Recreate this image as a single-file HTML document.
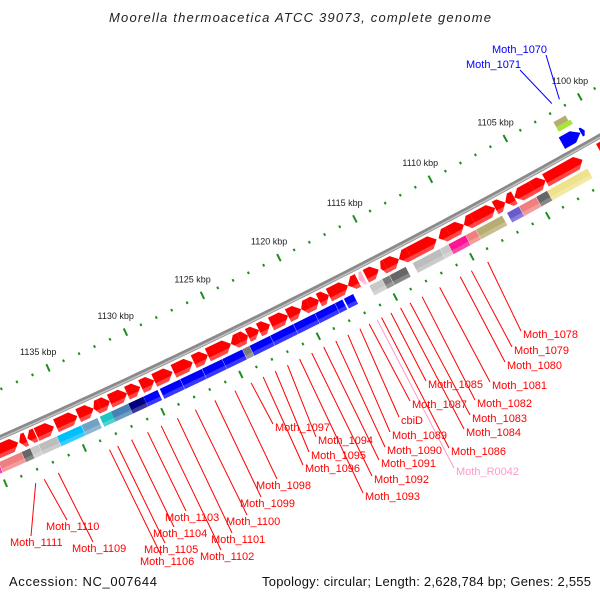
<!DOCTYPE html>
<html><head><meta charset="utf-8"><style>
html,body{margin:0;padding:0;background:#fff;width:600px;height:600px;overflow:hidden;}
svg{display:block;font-family:"Liberation Sans",sans-serif;}
</style></head><body>
<svg id="map" width="600" height="600" viewBox="0 0 600 600" xmlns="http://www.w3.org/2000/svg">
<rect width="600" height="600" fill="#fff"/>
<text x="300" y="22" text-anchor="middle" font-style="italic" font-size="13" fill="#222" textLength="382">Moorella thermoacetica ATCC 39073, complete genome</text>
<g id="rings"></g>
<g id="ticks"></g>
<g id="genes"></g>
<g id="labels"></g>
<text x="9" y="586" font-size="13" fill="#111" textLength="148">Accession: NC_007644</text>
<text x="591" y="586" text-anchor="end" font-size="13" fill="#111" textLength="329">Topology: circular; Length: 2,628,784 bp; Genes: 2,555</text>
</svg>
<script>
// ---- data (kbp) ----
const majorTicks = [1100,1105,1110,1115,1120,1125,1130,1135];
const majorTickLabels = ["1100 kbp","1105 kbp","1110 kbp","1115 kbp","1120 kbp","1125 kbp","1130 kbp","1135 kbp"];
const redStart = [1138.38,1137.86,1137.27,1136.10,1134.61,1133.57,1133.18,1132.53,1131.43,1130.58,1129.68,1128.51,1127.21,1126.23,1124.74,1124.16,1123.64,1122.92,1122.21,1121.04,1120.19,1119.68,1119.03,1118.38,1117.14,1116.49,1116.10,1115.13,1114.67,1113.80,1113.13,1111.33,1110.53,1109.53,1108.93,1107.47,1106.80,1106.20,1105.00,1104.13,1101.67,1099.00];
const redEnd   = [1140.32,1138.31,1137.79,1137.21,1135.97,1134.55,1133.57,1133.18,1132.53,1131.43,1130.52,1129.68,1128.44,1127.14,1126.23,1124.74,1124.16,1123.64,1122.92,1122.14,1121.04,1120.19,1119.68,1119.03,1118.38,1117.14,1116.43,1115.97,1115.00,1114.67,1113.80,1113.13,1111.20,1110.53,1109.53,1108.93,1107.47,1106.80,1106.20,1105.00,1104.13,1100.53];
const redKind  = ["c","c","c","c","c","c","c","c","c","c","c","c","c","c","c","c","c","c","c","c","c","c","c","c","c","c","r","c","c","c","c","c","c","c","c","c","c","c","c","c","c","c"];
const redDir   = [1,-1,-1,1,1,1,-1,1,1,1,1,1,1,1,1,-1,1,1,1,1,1,-1,1,1,1,-1,-1,1,-1,1,-1,1,-1,1,-1,1,1,-1,-1,1,1,1];
const cogStart = [1139.90,1138.44,1137.88,1137.36,1136.19,1134.63,1133.60,1132.73,1131.63,1130.66,1129.75,1128.30,1126.90,1125.60,1124.30,1123.84,1122.50,1121.00,1119.60,1118.30,1117.80,1117.10,1115.22,1114.74,1113.67,1111.42,1110.88,1109.75,1109.07,1107.33,1106.22,1105.09,1104.35,1101.67];
const cogEnd   = [1140.60,1139.87,1138.42,1137.86,1137.34,1136.17,1134.61,1133.44,1132.73,1131.62,1130.65,1129.60,1128.28,1126.88,1125.58,1124.28,1123.82,1122.48,1120.98,1119.58,1118.28,1117.70,1116.04,1115.20,1114.72,1113.20,1111.40,1110.86,1109.73,1109.05,1107.00,1106.20,1105.07,1104.33];
const cogClass = ["M","C","D","L","S","K","X","T","B","N","U","U","U","U","U","G","U","U","U","U","U","U","L","G","D","S","L","P","C","O","V","C","D","Y"];
const topStart = [1101.27,1101.13,1101.00,1100.72];
const topEnd   = [1102.07,1102.07,1102.24,1100.98];
const topClass = ["O","W","U","U"];
const labelNames = ["Moth_1078","Moth_1079","Moth_1080","Moth_1081","Moth_1082","Moth_1083","Moth_1084","Moth_1085","Moth_1086","Moth_R0042","Moth_1087","cbiD","Moth_1089","Moth_1090","Moth_1091","Moth_1092","Moth_1093","Moth_1094","Moth_1095","Moth_1096","Moth_1097","Moth_1098","Moth_1099","Moth_1100","Moth_1101","Moth_1102","Moth_1103","Moth_1104","Moth_1105","Moth_1106","Moth_1109","Moth_1110","Moth_1111","Moth_1070","Moth_1071"];
const labelKbp = [1109.33,1110.40,1111.13,1112.47,1113.62,1114.40,1115.02,1115.65,1116.25,1116.54,1117.06,1117.66,1118.44,1119.22,1120.00,1120.78,1121.56,1122.34,1123.12,1123.90,1124.68,1125.71,1127.00,1128.25,1129.40,1130.43,1131.30,1132.32,1133.20,1133.72,1136.97,1137.86,1138.40,1101.11,1101.62];
// ---- layout (not data) ----
const labelPos = [[523,338,"l"],[514,354,"l"],[507,369,"l"],[492,389,"l"],[477,407,"l"],[472,422,"l"],[466,436,"l"],[428,388,"l"],[451,455,"l"],[456,475,"l"],[412,408,"l"],[401,424,"l"],[392,439,"l"],[387,454,"l"],[381,467,"l"],[374,483,"l"],[365,500,"l"],[318,444,"l"],[311,459,"l"],[305,472,"l"],[275,431,"l"],[256,489,"t"],[240,507,"t"],[226,525,"t"],[211,543,"t"],[200,560,"t"],[165,521,"t"],[153,537,"t"],[144,553,"t"],[140,565,"t"],[72,552,"t"],[46,530,"t"],[10,546,"t"],[492,53,"r"],[466,68,"r"]];
const colorMap = {M:"#ff1493",C:"#f08080",D:"#666666",L:"#c8c8c8",S:"#bdbdbd",K:"#00bfff",X:"#6fa3c4",T:"#20c5c5",B:"#4682b4",N:"#000080",U:"#0000ff",G:"#7a7a7a",P:"#ff1493",O:"#b8ad70",V:"#6a5acd",Y:"#eee38c",W:"#a6e635"};

// ---- geometry ----
const CX=-2693, CY=-5669, R0=6630, A0=1.05453, K0=1100, DA=0.0025729;
function ang(k){return A0+(k-K0)*DA;}
function pt(k,d){const a=ang(k), r=R0+d; return [CX+r*Math.cos(a), CY+r*Math.sin(a)];}
const NS="http://www.w3.org/2000/svg";
function mk(tag,attrs,parent){const e=document.createElementNS(NS,tag);for(const k in attrs)e.setAttribute(k,attrs[k]);parent.appendChild(e);return e;}
function polyStr(ps){return ps.map(p=>p[0].toFixed(2)+","+p[1].toFixed(2)).join(" ");}
function arcPts(k1,k2,d){const ps=[];for(let k=k1;k<=k2+1e-9;k+=0.5){ps.push(pt(k,d));}return ps;}
function genePoly(k1,k2,d1,d2,dir,tipMax){
  const tl=Math.min(tipMax,(k2-k1)*0.55), dm=(d1+d2)/2;
  if(dir===1) return [pt(k1,dm),pt(k1+tl,d1),pt(k2,d1),pt(k2,d2),pt(k1+tl,d2)];
  if(dir===-1) return [pt(k1,d1),pt(k2-tl,d1),pt(k2,dm),pt(k2-tl,d2),pt(k1,d2)];
  return [pt(k1,d1),pt(k2,d1),pt(k2,d2),pt(k1,d2)];
}

// backbone (sampled only over visible range)
const rings=document.getElementById('rings');
const bb1=mk('polyline',{points:polyStr(arcPts(1097,1141.5,44)),fill:'none',stroke:'#8a8a8a','stroke-width':5},rings);


const bb2=mk('polyline',{points:polyStr(arcPts(1097,1141.5,45)),fill:'none',stroke:'#c4c4c4','stroke-width':1.5},rings);



// ticks
const tg=document.getElementById('ticks');
[0,88].forEach(function(dr){
  for(let k=1096;k<=1143;k++){
    const major=(k%5===0);
    const h=major?4:1.3;
    const a=pt(k,dr-h), b=pt(k,dr+h);
    if(Math.max(a[0],b[0])<0||Math.min(a[0],b[0])>600||Math.max(a[1],b[1])<0||Math.min(a[1],b[1])>600) continue;
    const ln=mk('line',{x1:a[0].toFixed(2),y1:a[1].toFixed(2),x2:b[0].toFixed(2),y2:b[1].toFixed(2),stroke:'#1e8c1e','stroke-width':2},tg);
    
    
  }
});
majorTicks.forEach(function(k,i){
  const p=pt(k,0);
  const t=mk('text',{x:(p[0]-28).toFixed(1),y:(p[1]-13).toFixed(1),'font-size':9,fill:'#222'},tg);
  t.textContent=majorTickLabels[i];
  
  
});

// genes
const gg=document.getElementById('genes');
for(let i=0;i<redStart.length;i++){
  const col=redKind[i]==='r'?'#ffb0d0':'#ff0000';
  const g=mk('polygon',{points:polyStr(genePoly(redStart[i],redEnd[i],49,63,redDir[i],0.4)),fill:col},gg);
  
  
  const s=mk('polygon',{points:polyStr(genePoly(redStart[i],redEnd[i],59,63,0,0)),fill:'#fff',opacity:0.28},gg);
  
  
}
for(let i=0;i<cogStart.length;i++){
  const g=mk('polygon',{points:polyStr(genePoly(cogStart[i],cogEnd[i],66,77,0,0)),fill:colorMap[cogClass[i]]},gg);
  
  
  const s=mk('polygon',{points:polyStr(genePoly(cogStart[i],cogEnd[i],73,77,0,0)),fill:'#fff',opacity:0.22},gg);
  
  
}
const topD=[[9,15,0],[15,20,0],[25,38,1],[27,36,1]];
for(let i=0;i<topStart.length;i++){
  const g=mk('polygon',{points:polyStr(genePoly(topStart[i],topEnd[i],topD[i][0],topD[i][1],topD[i][2],0.5)),fill:colorMap[topClass[i]]},gg);
  
  
}

// labels
const lg=document.getElementById('labels');
for(let i=0;i<labelNames.length;i++){
  const nm=labelNames[i];
  const isBlue=(nm==='Moth_1070'||nm==='Moth_1071');
  const col=isBlue?'#0000ff':(nm==='Moth_R0042'?'#ff99cc':'#ff0000');
  const lp=labelPos[i];
  const st=pt(labelKbp[i],isBlue?-8:100);
  let ex,ey;
  if(lp[2]==='t'){ex=lp[0]+21;ey=lp[1]-10;}
  else if(lp[2]==='r'){ex=lp[0]+54;ey=lp[1]+2;}
  else {ex=lp[0]-2;ey=lp[1]-7;}
  const ln=mk('line',{x1:st[0].toFixed(1),y1:st[1].toFixed(1),x2:ex,y2:ey,stroke:col,'stroke-width':1},lg);
  
  
  const t=mk('text',{x:lp[0],y:lp[1],'font-size':11,fill:col},lg);
  t.textContent=nm;
  
  
}
</script>
</body></html>
